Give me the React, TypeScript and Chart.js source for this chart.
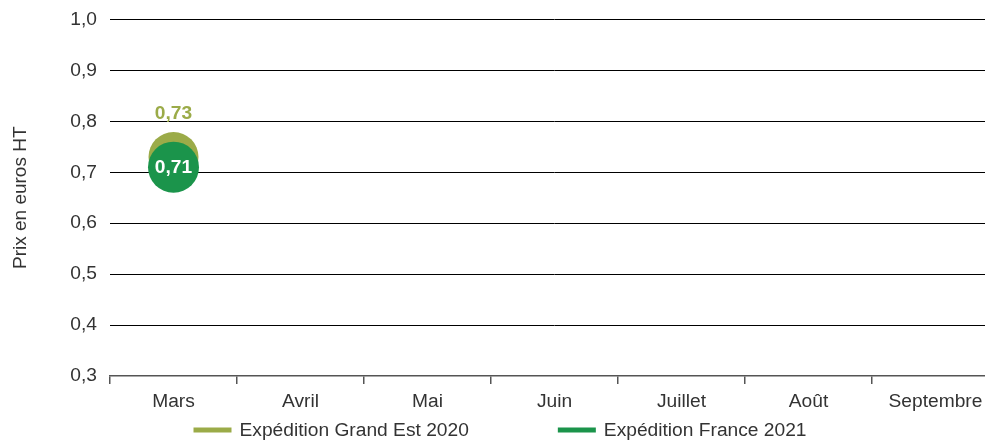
import React, { useEffect, useRef } from "react";
import { Chart, registerables } from "chart.js";

Chart.register(...registerables);

const months = ["Mars", "Avril", "Mai", "Juin", "Juillet", "Août", "Septembre"];
const grandEst2020: (number | null)[] = [0.73, null, null, null, null, null, null];
const france2021: (number | null)[] = [0.71, null, null, null, null, null, null];
const seriesNames = ["Expédition Grand Est 2020", "Expédition France 2021"];
const seriesColors = ["#9BAB48", "#1B944B"];
const yMin = 0.3;
const yMax = 1.0;
const yStep = 0.1;
const yTitle = "Prix en euros HT";

const FONT = "'Liberation Sans', Arial, sans-serif";
const FS = 19.2;
const TEXT = "#333333";

const fmt = (v: number, d: number) => v.toFixed(d).replace(".", ",");

const labelsPlugin = {
  id: "pointLabels",
  afterDatasetsDraw(chart: any) {
    const ctx = chart.ctx;
    ctx.save();
    ctx.font = `bold ${FS}px ${FONT}`;
    ctx.textAlign = "center";
    ctx.textBaseline = "middle";
    chart.data.datasets.forEach((ds: any, di: number) => {
      const meta = chart.getDatasetMeta(di);
      meta.data.forEach((pt: any, i: number) => {
        const v = ds.data[i];
        if (v == null) return;
        if (di === 0) {
          ctx.fillStyle = seriesColors[0];
          ctx.fillText(fmt(v, 2), pt.x, pt.y - 43);
        } else {
          ctx.fillStyle = "#ffffff";
          ctx.fillText(fmt(v, 2), pt.x, pt.y + 0.5);
        }
      });
    });
    ctx.restore();
  },
};

const legendPlugin = {
  id: "customLegend",
  afterDraw(chart: any) {
    const ctx = chart.ctx;
    ctx.save();
    ctx.font = `${FS}px ${FONT}`;
    const lineW = 38;
    const gapText = 8;
    const gapItems = 89;
    const widths = seriesNames.map((n) => lineW + gapText + ctx.measureText(n).width);
    const total = widths.reduce((a, b) => a + b, 0) + gapItems * (widths.length - 1);
    let x = chart.width / 2 - total / 2;
    const y = 430;
    seriesNames.forEach((n, i) => {
      ctx.fillStyle = seriesColors[i];
      ctx.fillRect(x, y - 2.5, lineW, 5);
      ctx.fillStyle = TEXT;
      ctx.textAlign = "left";
      ctx.textBaseline = "middle";
      ctx.fillText(n, x + lineW + gapText, y + 1);
      x += widths[i] + gapItems;
    });
    ctx.restore();
  },
};

export default function App() {
  const ref = useRef<HTMLCanvasElement | null>(null);
  useEffect(() => {
    if (!ref.current) return;
    const chart = new Chart(ref.current, {
      type: "line",
      data: {
        labels: months,
        datasets: [
          {
            label: seriesNames[0],
            data: grandEst2020,
            backgroundColor: seriesColors[0],
            borderColor: seriesColors[0],
            pointRadius: 25,
            pointHoverRadius: 25,
            pointBorderWidth: 0,
            showLine: false,
            order: 1,
          },
          {
            label: seriesNames[1],
            data: france2021,
            backgroundColor: seriesColors[1],
            borderColor: seriesColors[1],
            pointRadius: 25.5,
            pointHoverRadius: 25.5,
            pointBorderWidth: 0,
            showLine: false,
            order: 0,
          },
        ],
      },
      options: {
        animation: false,
        responsive: false,
        devicePixelRatio: 1,
        layout: { autoPadding: false, padding: { top: 0, left: 9, right: 1, bottom: 22 } },
        plugins: {
          legend: { display: false },
          tooltip: { enabled: false },
        },
        scales: {
          x: {
            offset: true,
            grid: {
              offset: true,
              drawOnChartArea: false,
              drawTicks: true,
              tickLength: 8,
              color: "#555555",
              lineWidth: 1.5,
            },
            border: { display: true, color: "#555555", width: 1.5 },
            ticks: {
              color: TEXT,
              font: { family: FONT, size: FS },
              padding: 6,
              maxRotation: 0,
              autoSkip: false,
            },
            afterFit: (s: any) => {
              s.paddingLeft = 0;
              s.paddingRight = 0;
            },
          },
          y: {
            min: yMin,
            max: yMax,
            grid: { color: "#000000", lineWidth: 1, drawTicks: false },
            border: { display: false },
            ticks: {
              stepSize: yStep,
              color: TEXT,
              font: { family: FONT, size: FS },
              padding: 13,
              callback: (v: any) => fmt(Number(v), 1),
            },
            title: {
              display: true,
              text: yTitle,
              color: TEXT,
              font: { family: FONT, size: 19 },
              padding: 0,
            },
            afterFit: (s: any) => {
              s.width = 101;
              s.paddingTop = 19.5;
            },
          },
        },
      },
      plugins: [labelsPlugin, legendPlugin],
    });
    return () => chart.destroy();
  }, []);
  return (
    <div style={{ position: "absolute", left: 0, top: 0, width: 985, height: 441, overflow: "hidden" }}>
      <canvas ref={ref} width={1000} height={441} style={{ display: "block", width: 1000, height: 441 }} />
    </div>
  );
}
